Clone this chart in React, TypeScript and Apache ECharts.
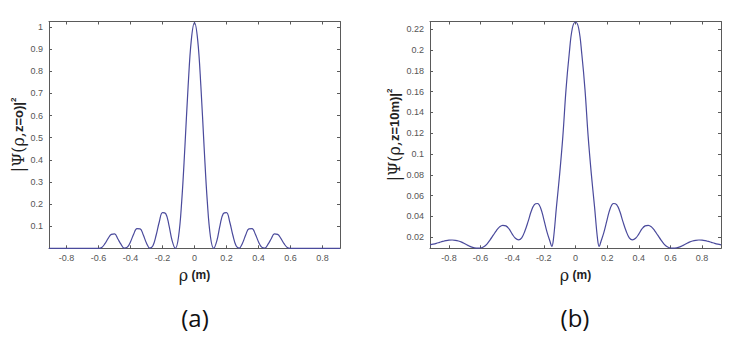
import React, { useEffect, useRef } from "react";
import * as echarts from "echarts";

// Panel (a): |Psi(rho, z=0)|^2
const rhoA = [
  -0.91, -0.6, -0.58, -0.56, -0.54, -0.52, -0.5, -0.48, -0.46, -0.44, -0.42, -0.4, -0.38, -0.36, -0.34, -0.32,
  -0.3, -0.28, -0.26, -0.24, -0.22, -0.2, -0.18, -0.16, -0.14, -0.12, -0.1, -0.08, -0.06, -0.04, -0.02,
  0,
  0.02, 0.04, 0.06, 0.08, 0.1, 0.12, 0.14, 0.16, 0.18, 0.2, 0.22, 0.24, 0.26, 0.28, 0.3,
  0.32, 0.34, 0.36, 0.38, 0.4, 0.42, 0.44, 0.46, 0.48, 0.5, 0.52, 0.54, 0.56, 0.58, 0.6, 0.91,
];
const psiA = [
  0, 0, 0.004, 0.021, 0.045, 0.063, 0.065, 0.043, 0.019, 0.001, 0.005, 0.03, 0.065, 0.089, 0.088, 0.06,
  0.023, 0.001, 0.012, 0.059, 0.12, 0.161, 0.157, 0.105, 0.035, 0.0, 0.051, 0.212, 0.459, 0.731, 0.941,
  1.02,
  0.941, 0.731, 0.459, 0.212, 0.051, 0.0, 0.035, 0.105, 0.157, 0.161, 0.12, 0.059, 0.012, 0.001, 0.023,
  0.06, 0.088, 0.089, 0.065, 0.03, 0.005, 0.001, 0.019, 0.043, 0.065, 0.063, 0.045, 0.021, 0.004, 0, 0,
];

// Panel (b): |Psi(rho, z=10m)|^2
const rhoB = [
  -0.92, -0.9, -0.88, -0.86, -0.84, -0.82, -0.8, -0.78, -0.76, -0.74, -0.72, -0.7, -0.68, -0.66, -0.64, -0.62,
  -0.6, -0.58, -0.56, -0.54, -0.52, -0.5, -0.48, -0.46, -0.44, -0.42, -0.4, -0.38, -0.36, -0.34, -0.32, -0.3,
  -0.28, -0.26, -0.24, -0.22, -0.2, -0.18, -0.16, -0.15, -0.14, -0.12, -0.1, -0.08, -0.06, -0.04, -0.02,
  0,
  0.02, 0.04, 0.06, 0.08, 0.1, 0.12, 0.14, 0.15, 0.16, 0.18, 0.2, 0.22, 0.24, 0.26, 0.28, 0.3, 0.32,
  0.34, 0.36, 0.38, 0.4, 0.42, 0.44, 0.46, 0.48, 0.5, 0.52, 0.54, 0.56, 0.58, 0.6, 0.62, 0.64,
  0.66, 0.68, 0.7, 0.72, 0.74, 0.76, 0.78, 0.8, 0.82, 0.84, 0.86, 0.88, 0.9, 0.92,
];
const psiB = [
  0.0127, 0.0134, 0.0142, 0.0151, 0.016, 0.0168, 0.0173, 0.0174, 0.0171, 0.0164, 0.0153, 0.0138, 0.0122, 0.0108, 0.0099, 0.0095,
  0.0097, 0.0108, 0.0135, 0.0175, 0.022, 0.0265, 0.03, 0.0315, 0.031, 0.028, 0.023, 0.019, 0.0175, 0.0195, 0.026, 0.035,
  0.045, 0.0515, 0.0525, 0.048, 0.037, 0.025, 0.0155, 0.0112, 0.0175, 0.05, 0.081, 0.117, 0.162, 0.196, 0.221,
  0.227,
  0.221, 0.196, 0.162, 0.117, 0.081, 0.05, 0.0175, 0.0112, 0.0155, 0.025, 0.037, 0.048, 0.0525, 0.0515, 0.045, 0.035, 0.026,
  0.0195, 0.0175, 0.019, 0.023, 0.028, 0.031, 0.0315, 0.03, 0.0265, 0.022, 0.0175, 0.0135, 0.0108, 0.0097, 0.0095, 0.0099,
  0.0108, 0.0122, 0.0138, 0.0153, 0.0164, 0.0171, 0.0174, 0.0173, 0.0168, 0.016, 0.0151, 0.0142, 0.0134, 0.0127,
];

const xTicks = [-0.8, -0.6, -0.4, -0.2, 0, 0.2, 0.4, 0.6, 0.8];
const yTicksA = [0.1, 0.2, 0.3, 0.4, 0.5, 0.6, 0.7, 0.8, 0.9, 1];
const yTicksB = [0.02, 0.04, 0.06, 0.08, 0.1, 0.12, 0.14, 0.16, 0.18, 0.2, 0.22];

const AXIS_COLOR = "#5a5a5a";
const LABEL_COLOR = "#555";
const LINE_COLOR = "#4a4a9c";

const richY = {
  s: { fontFamily: "DejaVu Serif", fontSize: 16, color: "#222" },
  b: { fontFamily: "Liberation Sans", fontWeight: "bold", fontSize: 13, color: "#222" },
  sup: { fontFamily: "Liberation Sans", fontWeight: "bold", fontSize: 8, color: "#222", padding: [0, 0, 11, 0] },
};
const richX = {
  r: { fontFamily: "DejaVu Serif", fontSize: 16, color: "#222" },
  b: { fontFamily: "Liberation Sans", fontWeight: "bold", fontSize: 12, color: "#222" },
};

export default function App() {
  const ref = useRef<HTMLDivElement>(null);
  useEffect(() => {
    if (!ref.current) return;
    const chart = echarts.init(ref.current, null, { renderer: "svg" });

    const mkX = (grid: number, min: number, max: number, top: boolean) => ({
      type: "value",
      gridIndex: grid,
      position: top ? "top" : "bottom",
      min,
      max,
      name: top ? "" : "{r|ρ} {b|(m)}",
      nameLocation: "middle",
      nameGap: 16,
      nameTextStyle: { rich: richX },
      splitLine: { show: false },
      axisLine: { show: true, onZero: false, lineStyle: { color: AXIS_COLOR, width: 1 } },
      axisTick: { show: true, inside: true, length: 3, customValues: xTicks, lineStyle: { color: AXIS_COLOR } },
      axisLabel: {
        show: !top,
        customValues: xTicks,
        margin: 5,
        fontSize: 9,
        color: LABEL_COLOR,
        fontFamily: "Liberation Sans",
      },
    });
    const mkY = (grid: number, min: number, max: number, ticks: number[], right: boolean, name: string) => ({
      type: "value",
      gridIndex: grid,
      position: right ? "right" : "left",
      min,
      max,
      name: right ? "" : name,
      nameLocation: "middle",
      nameRotate: 90,
      nameGap: grid === 0 ? 21 : 24,
      nameTextStyle: { rich: richY },
      splitLine: { show: false },
      axisLine: { show: true, onZero: false, lineStyle: { color: AXIS_COLOR, width: 1 } },
      axisTick: { show: true, inside: true, length: 3, customValues: ticks, lineStyle: { color: AXIS_COLOR } },
      axisLabel: {
        show: !right,
        customValues: ticks,
        margin: 6,
        fontSize: 9,
        color: LABEL_COLOR,
        fontFamily: "Liberation Sans",
      },
    });

    chart.setOption({
      animation: false,
      grid: [
        { left: 49, top: 21.5, width: 291, height: 226.8 },
        { left: 430, top: 21.5, width: 291, height: 226.8 },
      ],
      xAxis: [mkX(0, -0.91, 0.91, false), mkX(0, -0.91, 0.91, true), mkX(1, -0.92, 0.92, false), mkX(1, -0.92, 0.92, true)],
      yAxis: [
        mkY(0, 0, 1.025, yTicksA, false, "{s||Ψ(ρ,}{b|z=o)|}{sup|2}"),
        mkY(0, 0, 1.025, yTicksA, true, ""),
        mkY(1, 0.0094, 0.2275, yTicksB, false, "{s||Ψ(ρ,}{b|z=10m)|}{sup|2}"),
        mkY(1, 0.0094, 0.2275, yTicksB, true, ""),
      ],
      series: [
        {
          type: "line",
          xAxisIndex: 0,
          yAxisIndex: 0,
          data: rhoA.map((r, i) => [r, psiA[i]]),
          showSymbol: false,
          smooth: 0.4,
          clip: true,
          lineStyle: { color: LINE_COLOR, width: 1.2 },
        },
        {
          type: "line",
          xAxisIndex: 2,
          yAxisIndex: 2,
          data: rhoB.map((r, i) => [r, psiB[i]]),
          showSymbol: false,
          smooth: 0.4,
          clip: true,
          lineStyle: { color: LINE_COLOR, width: 1.2 },
        },
      ],
      graphic: [
        {
          type: "text",
          x: 195,
          y: 317,
          style: { text: "(a)", fontFamily: "Open Sans", fontSize: 24, fill: "#111", align: "center", verticalAlign: "middle" },
        },
        {
          type: "text",
          x: 575,
          y: 317,
          style: { text: "(b)", fontFamily: "Open Sans", fontSize: 24, fill: "#111", align: "center", verticalAlign: "middle" },
        },
      ],
    });
    return () => chart.dispose();
  }, []);
  return (
    <div
      ref={ref}
      style={{ position: "fixed", left: 0, top: 0, width: 745, height: 345, background: "#fff" }}
    />
  );
}
